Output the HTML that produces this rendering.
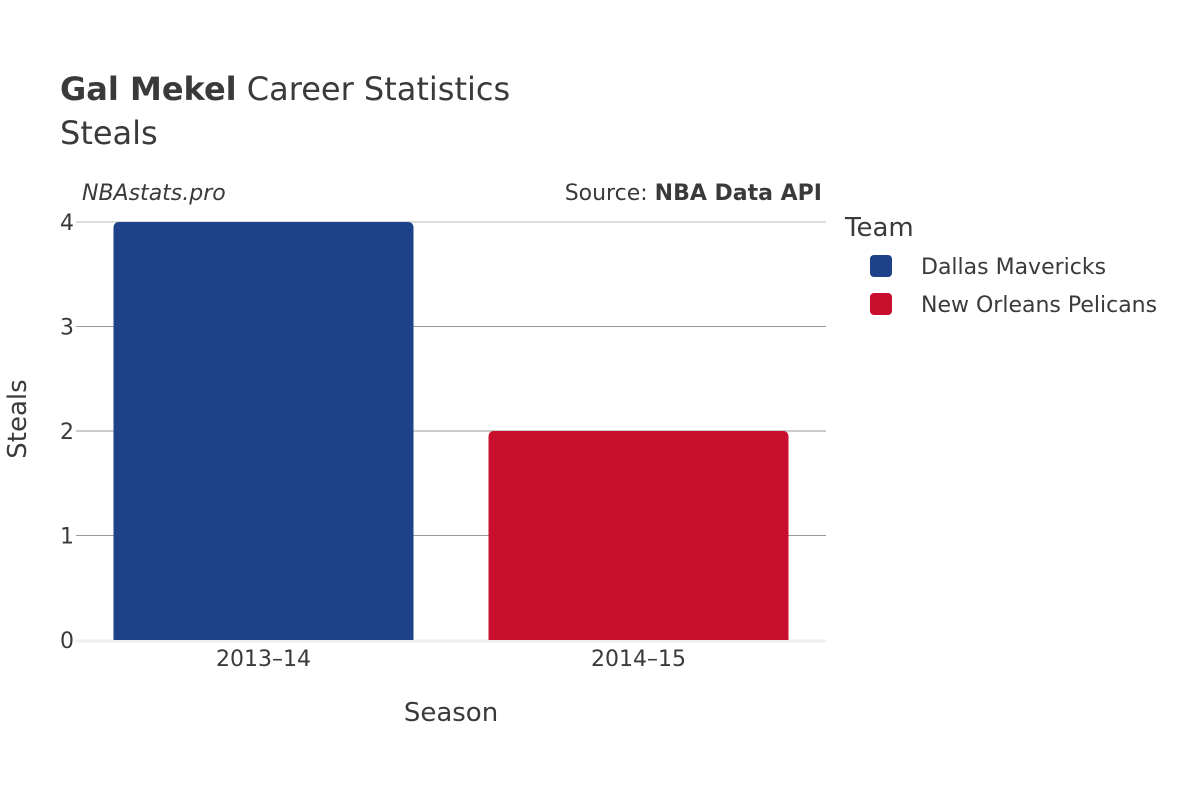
<!DOCTYPE html>
<html><head><meta charset="utf-8">
<style>
html,body{margin:0;padding:0;background:#fff;}
svg{display:block;font-family:"DejaVu Sans","Liberation Sans",sans-serif;}
</style></head>
<body>
<svg id="chart" width="1200" height="800" viewBox="0 0 1200 800">
  <rect width="1200" height="800" fill="#fff"/>
  <text x="60" y="100" font-size="32" fill="#3a3a3a"><tspan font-weight="bold">Gal Mekel</tspan> Career Statistics</text>
  <text x="60" y="144" font-size="32" fill="#3a3a3a">Steals</text>
  <text x="82" y="200" font-size="22" font-style="italic" fill="#3a3a3a">NBAstats.pro</text>
  <text x="822" y="200" font-size="22" text-anchor="end" fill="#3a3a3a">Source: <tspan font-weight="bold">NBA Data API</tspan></text>
  <g id="grid"></g>
  <g id="bars"></g>
  <g id="yticks"></g>
  <g id="xticks"></g>
  <text x="451" y="721" font-size="26" text-anchor="middle" fill="#3a3a3a">Season</text>
  <text transform="translate(26,419) rotate(-90)" font-size="26" text-anchor="middle" fill="#3a3a3a">Steals</text>
  <text x="845" y="236" font-size="26" fill="#3a3a3a">Team</text>
  <g id="legend"></g>
</svg>
<script>
const categories = ["2013\u201314", "2014\u201315"];
const teams = ["Dallas Mavericks", "New Orleans Pelicans"];
const steals = [4, 2];
const yTicks = [0, 1, 2, 3, 4];
const teamColors = ["#1d4289", "#c8102e"];

const NS = "http://www.w3.org/2000/svg";
const plotL = 76, plotR = 826, plotB = 640, plotT = 222, yMax = 4;
function yScale(v){ return plotB - (v / yMax) * (plotB - plotT); }
const band = (plotR - plotL) / categories.length;
function xCenter(i){ return plotL + band * (i + 0.5); }
const barW = band * 0.8;

function mk(tag, attrs, parent){
  const e = document.createElementNS(NS, tag);
  for (const k in attrs) e.setAttribute(k, attrs[k]);
  parent.appendChild(e);
  return e;
}

const grid = document.getElementById('grid');
const yt = document.getElementById('yticks');
yTicks.forEach(t => {
  const y = yScale(t);
  if (t !== 0) {
    const l = mk('line', {x1: plotL, x2: plotR, y1: y, y2: y, stroke: t === yMax ? '#bbb' : '#999', 'stroke-width': 1}, grid);
    
    
  }
  const lab = mk('text', {x: 74, y: y + 8, 'font-size': 22, 'text-anchor': 'end', fill: '#3a3a3a'}, yt);
  lab.textContent = t;
  
  
});

const bars = document.getElementById('bars');
const xt = document.getElementById('xticks');
categories.forEach((c, i) => {
  const x0 = xCenter(i) - barW / 2, yTop = yScale(steals[i]), r = 6;
  const d = `M${x0},${plotB} L${x0},${yTop + r} Q${x0},${yTop} ${x0 + r},${yTop} L${x0 + barW - r},${yTop} Q${x0 + barW},${yTop} ${x0 + barW},${yTop + r} L${x0 + barW},${plotB} Z`;
  const b = mk('path', {d: d, fill: teamColors[i]}, bars);
  
  
  const lab = mk('text', {x: xCenter(i), y: 666, 'font-size': 22, 'text-anchor': 'middle', fill: '#3a3a3a'}, xt);
  lab.textContent = c;
  
  
});
const zl = mk('line', {x1: plotL, x2: plotR, y1: plotB + 1, y2: plotB + 1, stroke: '#eee', 'stroke-width': 3}, grid);



const leg = document.getElementById('legend');
teams.forEach((t, i) => {
  const y = 266 + i * 38;
  const sw = mk('rect', {x: 870, y: y - 11, width: 22, height: 22, rx: 4, fill: teamColors[i]}, leg);
  
  
  const tx = mk('text', {x: 921, y: y + 8, 'font-size': 22, fill: '#3a3a3a'}, leg);
  tx.textContent = t;
  
  
});
</script>
</body></html>
